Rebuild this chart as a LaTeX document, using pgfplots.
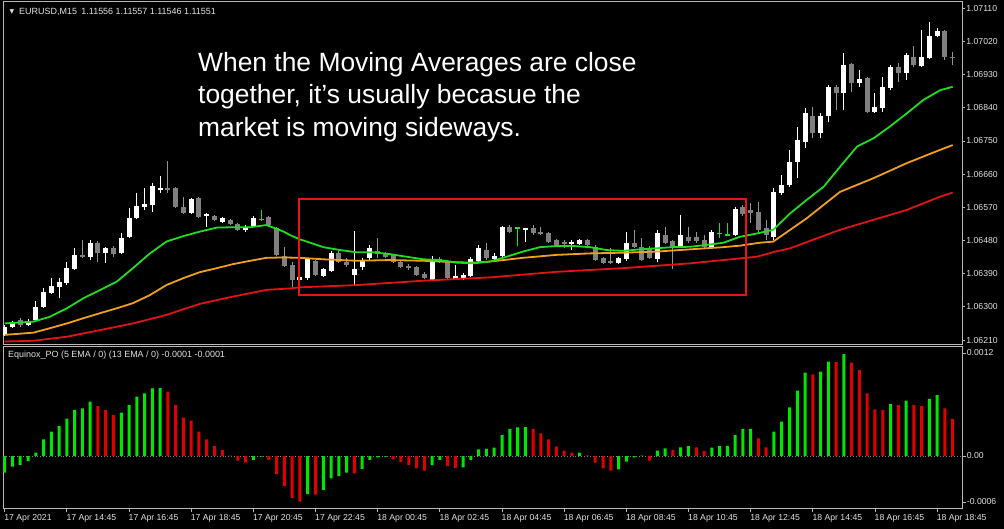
\documentclass[border=0pt]{standalone}
\usepackage{pgfplots}
\pgfplotsset{compat=1.18}
\usepackage{pgfplotstable}
\usepackage{fontspec}
\setmainfont{Liberation Sans}
\newfontfamily\dejavu{DejaVu Sans}
\definecolor{framec}{RGB}{185,185,185}
\definecolor{lbl}{RGB}{225,225,225}
\definecolor{bearc}{RGB}{128,128,128}
\definecolor{bearw}{RGB}{150,150,150}
\definecolor{magreen}{RGB}{30,220,30}
\definecolor{maorange}{RGB}{240,160,30}
\definecolor{mared}{RGB}{225,20,20}
\definecolor{hgreen}{RGB}{0,230,0}
\definecolor{hred}{RGB}{225,0,0}
\definecolor{boxred}{RGB}{230,20,20}

% prices; plotted as (price-1.06)*1000 to keep TeX arithmetic in range
\pgfplotstableread{
i o h l c
0 1.06224 1.06251 1.06221 1.06245
1 1.06245 1.06262 1.06243 1.06256
3 1.06251 1.06267 1.06248 1.06259
4 1.06264 1.06316 1.06262 1.06300
5 1.06300 1.06351 1.06297 1.06340
6 1.06338 1.06378 1.06336 1.06357
7 1.06354 1.06378 1.06324 1.06367
8 1.06365 1.06422 1.06359 1.06405
9 1.06403 1.06460 1.06400 1.06441
11 1.06435 1.06481 1.06427 1.06473
13 1.06446 1.06462 1.06419 1.06460
15 1.06446 1.06500 1.06443 1.06487
16 1.06490 1.06568 1.06487 1.06541
17 1.06541 1.06609 1.06538 1.06574
18 1.06571 1.06622 1.06563 1.06579
19 1.06576 1.06636 1.06557 1.06628
20 1.06617 1.06655 1.06609 1.06622
24 1.06555 1.06595 1.06552 1.06593
26 1.06546 1.06554 1.06517 1.06552
28 1.06530 1.06544 1.06528 1.06541
31 1.06509 1.06522 1.06503 1.06517
32 1.06519 1.06546 1.06517 1.06541
38 1.06373 1.06386 1.06367 1.06381
39 1.06378 1.06433 1.06373 1.06430
41 1.06384 1.06405 1.06381 1.06403
42 1.06397 1.06452 1.06395 1.06446
45 1.06386 1.06506 1.06359 1.06403
46 1.06408 1.06433 1.06400 1.06424
47 1.06433 1.06468 1.06427 1.06460
55 1.06373 1.06438 1.06370 1.06422
58 1.06376 1.06414 1.06373 1.06384
59 1.06378 1.06392 1.06373 1.06386
60 1.06384 1.06435 1.06381 1.06430
61 1.06424 1.06468 1.06422 1.06460
63 1.06430 1.06446 1.06422 1.06438
64 1.06438 1.06519 1.06435 1.06517
67 1.06509 1.06514 1.06476 1.06514
73 1.06471 1.06481 1.06454 1.06476
74 1.06471 1.06484 1.06468 1.06481
79 1.06419 1.06435 1.06416 1.06433
80 1.06430 1.06503 1.06424 1.06473
84 1.06430 1.06509 1.06422 1.06500
87 1.06462 1.06549 1.06460 1.06495
91 1.06462 1.06509 1.06460 1.06503
94 1.06495 1.06571 1.06492 1.06566
99 1.06490 1.06622 1.06481 1.06612
100 1.06609 1.06658 1.06603 1.06631
101 1.06631 1.06726 1.06625 1.06693
102 1.06693 1.06788 1.06650 1.06753
103 1.06747 1.06840 1.06731 1.06826
105 1.06772 1.06826 1.06758 1.06818
106 1.06818 1.06902 1.06801 1.06896
108 1.06880 1.06989 1.06834 1.06956
110 1.06907 1.06943 1.06896 1.06918
112 1.06829 1.06880 1.06826 1.06842
113 1.06840 1.06924 1.06829 1.06896
114 1.06894 1.06956 1.06888 1.06951
116 1.06934 1.06989 1.06915 1.06983
118 1.06953 1.07051 1.06951 1.06978
119 1.06975 1.07073 1.06972 1.07035
120 1.07035 1.07057 1.07032 1.07048
}\bull

\pgfplotstableread{
i o h l c
2 1.06264 1.06270 1.06245 1.06251
10 1.06441 1.06481 1.06433 1.06435
12 1.06473 1.06479 1.06422 1.06446
14 1.06460 1.06465 1.06435 1.06443
21 1.06622 1.06696 1.06609 1.06617
22 1.06622 1.06625 1.06568 1.06571
23 1.06571 1.06598 1.06552 1.06555
25 1.06595 1.06598 1.06541 1.06544
27 1.06546 1.06549 1.06533 1.06536
29 1.06536 1.06538 1.06522 1.06525
30 1.06525 1.06528 1.06506 1.06509
34 1.06544 1.06546 1.06517 1.06522
35 1.06514 1.06517 1.06438 1.06441
36 1.06438 1.06462 1.06408 1.06411
37 1.06414 1.06422 1.06354 1.06373
40 1.06424 1.06427 1.06384 1.06386
43 1.06446 1.06452 1.06419 1.06422
44 1.06422 1.06433 1.06408 1.06414
48 1.06452 1.06487 1.06433 1.06443
49 1.06446 1.06449 1.06433 1.06435
50 1.06441 1.06443 1.06419 1.06422
51 1.06422 1.06427 1.06405 1.06408
52 1.06411 1.06416 1.06400 1.06405
53 1.06408 1.06411 1.06384 1.06386
54 1.06389 1.06395 1.06376 1.06378
56 1.06430 1.06435 1.06419 1.06424
57 1.06422 1.06427 1.06376 1.06378
62 1.06454 1.06473 1.06427 1.06433
65 1.06517 1.06522 1.06500 1.06503
68 1.06514 1.06522 1.06495 1.06500
69 1.06503 1.06517 1.06495 1.06498
70 1.06500 1.06503 1.06473 1.06476
71 1.06481 1.06484 1.06465 1.06468
72 1.06476 1.06481 1.06460 1.06471
75 1.06481 1.06484 1.06465 1.06468
76 1.06462 1.06468 1.06424 1.06427
77 1.06433 1.06435 1.06416 1.06419
78 1.06424 1.06460 1.06416 1.06419
81 1.06473 1.06509 1.06460 1.06462
82 1.06462 1.06487 1.06424 1.06427
83 1.06460 1.06465 1.06430 1.06433
85 1.06495 1.06517 1.06471 1.06473
86 1.06479 1.06481 1.06403 1.06462
88 1.06490 1.06517 1.06473 1.06479
89 1.06490 1.06503 1.06473 1.06479
90 1.06481 1.06495 1.06460 1.06462
95 1.06571 1.06576 1.06546 1.06552
96 1.06563 1.06582 1.06528 1.06555
97 1.06557 1.06584 1.06503 1.06509
98 1.06514 1.06536 1.06481 1.06495
104 1.06818 1.06842 1.06758 1.06772
107 1.06896 1.06902 1.06834 1.06880
109 1.06959 1.06962 1.06883 1.06907
111 1.06921 1.06924 1.06826 1.06829
115 1.06951 1.06962 1.06910 1.06934
117 1.06978 1.07008 1.06951 1.06956
121 1.07048 1.07051 1.06970 1.06978
122 1.06978 1.06992 1.06956 1.06975
}\bear

\pgfplotstableread{
i o h l c
33 1.06538 1.06563 1.06533 1.06538
66 1.06514 1.06517 1.06465 1.06514
92 1.06500 1.06528 1.06487 1.06500
93 1.06495 1.06528 1.06492 1.06495
}\doji

\pgfplotstableread{
i y
0 1.06255
3.7 1.06260
5.8 1.06273
8 1.06296
10.1 1.06323
12.3 1.06346
14.4 1.06368
16.5 1.06405
18.7 1.06445
20.8 1.06477
23 1.06492
25.1 1.06504
27.3 1.06515
29.4 1.06516
31.6 1.06516
33.7 1.06522
35.9 1.06504
36.7 1.06495
38 1.06483
38.9 1.06477
41 1.06462
43.2 1.06454
45.3 1.06448
47.4 1.06448
49.6 1.06443
51.7 1.06436
53.9 1.06429
56 1.06427
58.2 1.06420
60.3 1.06418
62.5 1.06423
64.6 1.06436
66.7 1.06450
68.9 1.06462
71 1.06465
73.2 1.06465
75.3 1.06462
77.5 1.06454
79.6 1.06452
81.8 1.06456
83.9 1.06459
86 1.06462
88.2 1.06463
90.3 1.06468
92.5 1.06474
94.6 1.06490
96.8 1.06499
98.9 1.06509
101.1 1.06554
103.2 1.06590
105.4 1.06626
107.5 1.06680
109.7 1.06735
111.8 1.06757
113.9 1.06789
116.1 1.06825
118.2 1.06861
120.4 1.06888
122 1.06897
}\magr

\pgfplotstableread{
i y
0 1.06224
3.7 1.06230
5.8 1.06242
8 1.06255
10.1 1.06269
12.3 1.06283
14.4 1.06296
16.5 1.06310
18.7 1.06332
20.8 1.06359
23 1.06378
25.1 1.06394
27.3 1.06405
29.4 1.06416
31.6 1.06425
33.7 1.06433
35.9 1.06434
38 1.06433
41 1.06429
45.3 1.06425
49.6 1.06427
53.9 1.06425
58.2 1.06421
60.3 1.06420
62.5 1.06423
66.7 1.06433
71 1.06441
75.3 1.06445
79.6 1.06447
83.9 1.06450
88.2 1.06456
92.5 1.06462
94.6 1.06466
97.2 1.06474
98.9 1.06477
103.2 1.06540
107.5 1.06612
111.8 1.06649
116.1 1.06690
120.4 1.06726
122 1.06739
}\maor

\pgfplotstableread{
i y
0 1.06206
3.7 1.06208
8 1.06219
12.3 1.06237
16.5 1.06255
20.8 1.06278
25.1 1.06308
29.4 1.06328
33.7 1.06346
36.7 1.06350
38 1.06353
45.3 1.06359
53.9 1.06371
62.5 1.06380
71 1.06395
79.6 1.06405
88.2 1.06418
96.8 1.06436
99 1.06449
101.1 1.06459
107.5 1.06509
111.8 1.06536
116.1 1.06563
120.4 1.06599
122 1.06610
}\mare

\pgfplotstableread{
i v
0 -0.000202
1 -0.000129
2 -0.000109
3 -0.000061
4 0.000040
5 0.000202
6 0.000294
7 0.000363
8 0.000451
9 0.000557
10 0.000577
11 0.000657
15 0.000524
16 0.000617
17 0.000718
18 0.000759
19 0.000819
20 0.000820
32 -0.000048
33 -0.000006
39 -0.000460
41 -0.000411
42 -0.000270
43 -0.000242
44 -0.000202
46 -0.000157
47 -0.000048
48 -0.000016
49 -0.000008
55 -0.000109
56 -0.000048
59 -0.000137
60 -0.000048
61 0.000081
62 0.000085
63 0.000100
64 0.000254
65 0.000327
66 0.000347
67 0.000348
74 0.000042
79 -0.000161
80 -0.000069
81 -0.000016
82 0.000004
84 0.000064
85 0.000093
87 0.000105
88 0.000121
91 0.000100
92 0.000121
93 0.000123
94 0.000254
95 0.000327
96 0.000329
99 0.000294
100 0.000415
101 0.000589
102 0.000790
103 0.001008
105 0.001020
106 0.001141
108 0.001234
114 0.000629
116 0.000669
119 0.000690
120 0.000738
}\hgr

\pgfplotstableread{
i v
12 0.000605
13 0.000557
14 0.000496
21 0.000778
22 0.000617
23 0.000463
24 0.000427
25 0.000294
26 0.000202
27 0.000121
28 0.000073
29 0.000006
30 -0.000057
31 -0.000081
34 -0.000048
35 -0.000218
36 -0.000363
37 -0.000505
38 -0.000553
40 -0.000466
45 -0.000209
50 -0.000040
51 -0.000073
52 -0.000109
53 -0.000149
54 -0.000178
57 -0.000121
58 -0.000142
68 0.000327
69 0.000275
70 0.000202
71 0.000113
72 0.000064
73 0.000040
75 0.000008
76 -0.000081
77 -0.000149
78 -0.000178
83 -0.000057
86 0.000073
89 0.000105
90 0.000061
97 0.000214
98 0.000105
104 0.000989
107 0.001137
109 0.001129
110 0.001041
111 0.000759
112 0.000565
113 0.000557
115 0.000617
117 0.000617
118 0.000605
121 0.000577
122 0.000448
}\hre

\begin{document}
\begin{tikzpicture}
\fill[black] (0bp,0bp) rectangle (1004bp,529bp);
\useasboundingbox (0bp,0bp) rectangle (1004bp,529bp);

\begin{axis}[
  at={(3bp,185bp)}, anchor=south west, scale only axis,
  width=959bp, height=343bp,
  xmin=-0.219, xmax=123.2,
  ymin=1.9923, ymax=11.2979,
  scaled ticks=false,
  axis line style={draw=framec, line width=0.8bp},
  xtick=\empty,
  ytick={2.1,3.0,3.9,4.8,5.7,6.6,7.5,8.4,9.3,10.2,11.1},
  yticklabels={1.06210,1.06300,1.06390,1.06480,1.06570,1.06660,1.06750,1.06840,1.06930,1.07020,1.07110},
  ytick pos=right, yticklabel pos=right, tick align=outside,
  major tick length=3bp, tick style={draw=framec, line width=0.8bp},
  yticklabel style={font=\fontsize{8.7}{10}\selectfont, text=lbl, inner sep=1.2bp},
  clip=true,
]
% wicks
\addplot[draw=none, mark=none, error bars/.cd, y dir=plus, y explicit, error mark=none,
  error bar style={draw=white, line width=1bp}]
  table[x=i, y expr=(\thisrow{l}-1.06)*1000, y error expr=(\thisrow{h}-\thisrow{l})*1000] {\bull};
\addplot[draw=none, mark=none, error bars/.cd, y dir=plus, y explicit, error mark=none,
  error bar style={draw=bearw, line width=1bp}]
  table[x=i, y expr=(\thisrow{l}-1.06)*1000, y error expr=(\thisrow{h}-\thisrow{l})*1000] {\bear};
\addplot[draw=none, mark=none, error bars/.cd, y dir=plus, y explicit, error mark=none,
  error bar style={draw=magreen, line width=1bp}]
  table[x=i, y expr=(\thisrow{l}-1.06)*1000, y error expr=(\thisrow{h}-\thisrow{l})*1000] {\doji};
% bodies
\addplot[draw=none, mark=none, error bars/.cd, y dir=plus, y explicit, error mark=none,
  error bar style={draw=white, line width=5bp}]
  table[x=i, y expr=(\thisrow{o}-1.06)*1000, y error expr={max((\thisrow{c}-\thisrow{o})*1000,0.03)}] {\bull};
\addplot[draw=none, mark=none, error bars/.cd, y dir=plus, y explicit, error mark=none,
  error bar style={draw=bearc, line width=5bp}]
  table[x=i, y expr=(\thisrow{c}-1.06)*1000, y error expr={max((\thisrow{o}-\thisrow{c})*1000,0.03)}] {\bear};
\addplot[draw=none, mark=none, error bars/.cd, y dir=plus, y explicit, error mark=none,
  error bar style={draw=magreen, line width=5bp}]
  table[x=i, y expr=(\thisrow{o}-1.06)*1000-0.015, y error expr=0.03] {\doji};
% moving averages
\addplot[draw=mared, line width=1.8bp, line join=round, mark=none] table[x=i, y expr=(\thisrow{y}-1.06)*1000] {\mare};
\addplot[draw=maorange, line width=1.8bp, line join=round, mark=none] table[x=i, y expr=(\thisrow{y}-1.06)*1000] {\maor};
\addplot[draw=magreen, line width=1.8bp, line join=round, mark=none] table[x=i, y expr=(\thisrow{y}-1.06)*1000] {\magr};
\end{axis}

\begin{axis}[
  at={(3bp,20.5bp)}, anchor=south west, scale only axis,
  width=959bp, height=162.5bp,
  xmin=-0.219, xmax=123.2,
  ymin=-0.000635, ymax=0.001331,
  scaled ticks=false,
  axis line style={draw=framec, line width=0.8bp},
  xtick={0,8,...,120},
  xticklabels={17 Apr 2021,17 Apr 14:45,17 Apr 16:45,17 Apr 18:45,17 Apr 20:45,17 Apr 22:45,18 Apr 00:45,18 Apr 02:45,18 Apr 04:45,18 Apr 06:45,18 Apr 08:45,18 Apr 10:45,18 Apr 12:45,18 Apr 14:45,18 Apr 16:45,18 Apr 18:45},
  typeset ticklabels with strut,
  xtick pos=bottom, ytick pos=right, yticklabel pos=right, tick align=outside,
  major tick length=3.5bp, tick style={draw=framec, line width=0.8bp},
  xticklabel style={font=\fontsize{8.7}{10}\selectfont, text=lbl, anchor=north west, inner sep=0.5bp, xshift=-1bp, yshift=-0.5bp},
  ytick={-0.000557,0,0.00124},
  yticklabels={-0.0006,0.00,0.0012},
  yticklabel style={font=\fontsize{8.7}{10}\selectfont, text=lbl, inner sep=1.2bp},
  clip=true,
]
\addplot[draw=gray, dotted, line width=0.9bp, mark=none] coordinates {(-1,0) (124,0)};
\addplot[ybar, bar width=3bp, bar shift=0pt, fill=hgreen, draw=none] table[x=i,y=v] {\hgr};
\addplot[ybar, bar width=3bp, bar shift=0pt, fill=hred, draw=none] table[x=i,y=v] {\hre};
\end{axis}

\draw[boxred, line width=2.6bp] (299bp,330bp) rectangle (746bp,234bp);

\node[anchor=center, inner sep=0, text=lbl, font=\dejavu\fontsize{6}{7}\selectfont] at (12bp,516.7bp) {▼};
\node[anchor=west, inner sep=0, text=lbl, font=\fontsize{9}{10}\selectfont] at (19bp,516.7bp) {EURUSD,M15\enspace 1.11556 1.11557 1.11546 1.11551};
\node[anchor=west, inner sep=0, text=lbl, font=\fontsize{9}{10}\selectfont] at (8bp,174bp) {Equinox\_PO (5 EMA / 0) (13 EMA / 0) -0.0001 -0.0001};

\node[anchor=base west, inner sep=0, text=white, font=\fontsize{26.5}{32}\selectfont] at (198bp,457.5bp) {When the Moving Averages are close};
\node[anchor=base west, inner sep=0, text=white, font=\fontsize{26.5}{32}\selectfont] at (198bp,425bp) {together, it's usually becasue the};
\node[anchor=base west, inner sep=0, text=white, font=\fontsize{26.5}{32}\selectfont] at (198bp,392.5bp) {market is moving sideways.};
\end{tikzpicture}
\end{document}
